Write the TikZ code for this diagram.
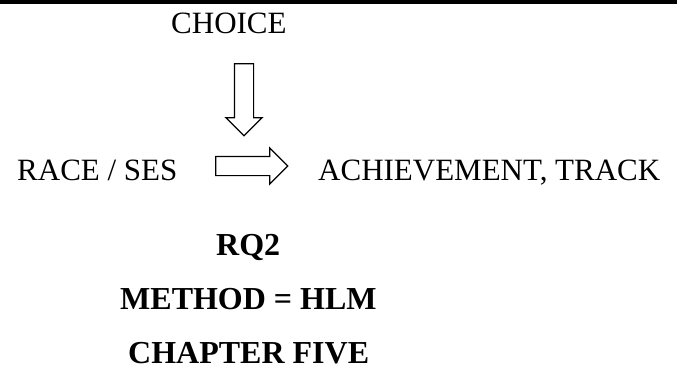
\documentclass[tikz,border=0pt]{standalone}
\usepackage{fontspec}
\setmainfont{Liberation Serif}
\usepackage{tikz}
\usetikzlibrary{positioning,shapes.arrows}

\begin{document}
\begin{tikzpicture}[
	x=1pt, y=1pt,
	every node/.style={
		inner sep=0pt, anchor=base west,
		font=\fontsize{31}{37}\selectfont
	},
	bigtext/.style={font=\fontsize{32}{38}\selectfont\bfseries},
	blockarrow/.style={
		single arrow, draw=black, line width=1.2pt, fill=white,
		anchor=center, inner sep=9pt,
		minimum height=72pt, single arrow head extend=8.5pt
	}
	]
	\useasboundingbox (0,0) rectangle (677,-370);
	% rule at the top
	\fill[black] (0,0) rectangle (677,-3.5);
	
	% model: choice -> (race/ses -> outcome)
	\node (choice) at (171,-33) {CHOICE};
	\node (race) at (17,-180) {RACE / SES};
	\node (outcome) at (318,-180) {ACHIEVEMENT, TRACK};
	\node[blockarrow, shape border rotate=270] (choicearrow) at (244,-95) {};
	\node[blockarrow] (racearrow) at (247,-166) {};
	
	% labels below
	\node[bigtext] (rq) at (216,-255) {RQ2};
	\node[bigtext] (method) at (120,-309) {METHOD = HLM};
	\node[bigtext] (chapter) at (128,-363) {CHAPTER FIVE};
\end{tikzpicture}
\end{document}
